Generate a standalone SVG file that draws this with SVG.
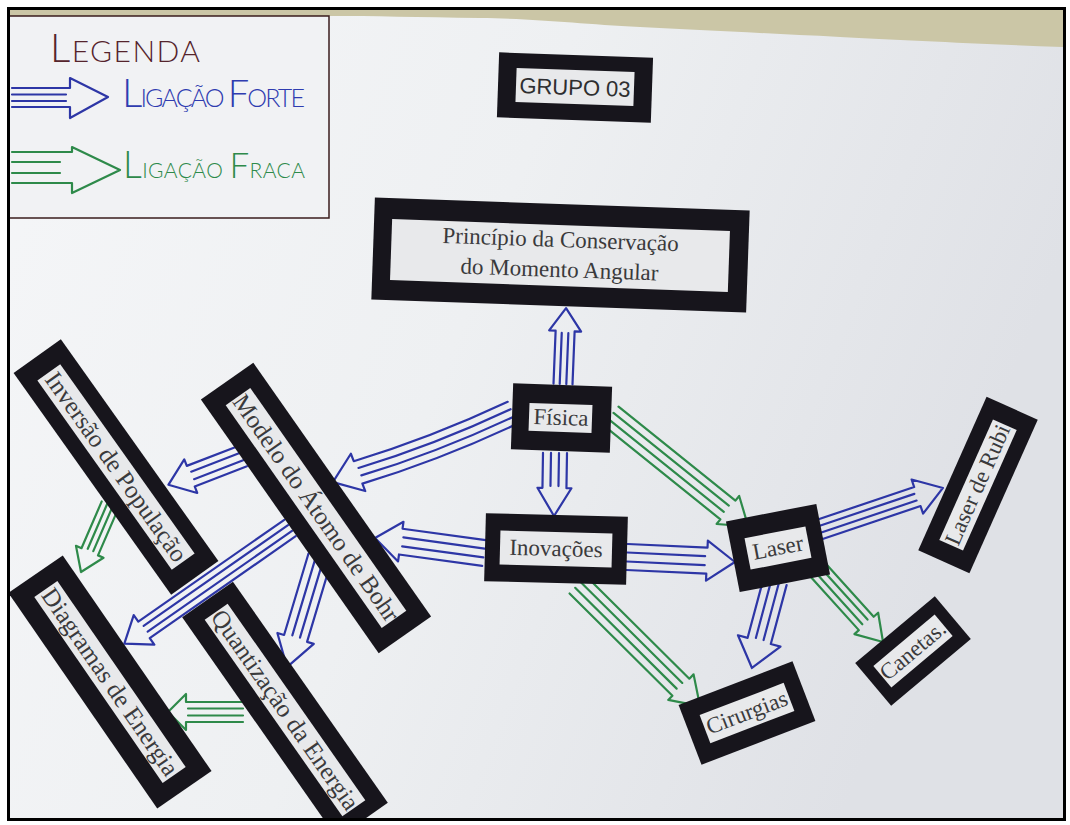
<svg xmlns="http://www.w3.org/2000/svg" width="1070" height="825" viewBox="0 0 1070 825">
  <style>
    .frame { fill: #17151c; }
    .panel { fill: #e8e9eb; }
    .lbl { font-family: "Liberation Serif", "DejaVu Serif", serif; font-size: 23px; fill: #3a3a3c; text-anchor: middle; }
    .lbl-long { font-size: 25px; }
    .sans { font-family: "Liberation Sans", Arial, sans-serif; fill: #2e2e30; text-anchor: middle; }
    .strong { fill: none; stroke: #2d36a6; stroke-width: 2.2; stroke-linejoin: round; stroke-linecap: round; }
    .weak { fill: none; stroke: #2e8a4a; stroke-width: 2.2; stroke-linejoin: round; stroke-linecap: round; }
    .hand { font-family: Lato, "Noto Sans", sans-serif; font-weight: 300; }
  </style>
  <defs>
    <linearGradient id="paper" x1="0" y1="0" x2="1" y2="0.3">
      <stop offset="0" stop-color="#f5f6f8"/>
      <stop offset="0.5" stop-color="#eef0f2"/>
      <stop offset="1" stop-color="#dfe1e6"/>
    </linearGradient>
    <clipPath id="sheet">
      <rect x="10" y="10" width="1053" height="808"/>
    </clipPath>
  </defs>

  <!-- page -->
  <rect x="0" y="0" width="1070" height="825" fill="#ffffff"/>
  <g clip-path="url(#sheet)">
    <rect x="10" y="10" width="1053" height="808" fill="url(#paper)"/>
    <!-- wall visible above the sheet -->
    <path d="M10,10 H1063 V47 C980,44 900,40 840,37 C760,33 700,30 640,27 C580,24 540,19 480,18 C420,17 370,16 330,16 H10 Z" fill="#cbc6a6"/>

    <!-- legend card -->
    <g id="legend">
      <rect x="6" y="16" width="323" height="202" fill="#f1f2f4" stroke="#3a1c1c" stroke-width="1.5"/>
      <text class="hand" x="50" y="62" fill="#55242c" textLength="150" lengthAdjust="spacing"><tspan font-size="40">L</tspan><tspan font-size="30">EGENDA</tspan></text>
      <path class="strong" d="M12,88 H70 V78 L108,97 L70,118 V107 H12 M12,94.5 H66 M12,101 H66"/>
      <text class="hand" x="122" y="107" fill="#2f3cb0" textLength="183" lengthAdjust="spacing"><tspan font-size="40">L</tspan><tspan font-size="25">IGAÇÃO </tspan><tspan font-size="38">F</tspan><tspan font-size="25">ORTE</tspan></text>
      <path class="weak" d="M12,152 H72 V147 L120,170 L72,193 V183 H12 M12,162 H60 M12,173 H60"/>
      <text class="hand" x="123" y="178" fill="#2e8a4a" textLength="182" lengthAdjust="spacing"><tspan font-size="37">L</tspan><tspan font-size="21">IGAÇÃO </tspan><tspan font-size="35">F</tspan><tspan font-size="21">RACA</tspan></text>
    </g>

    <!-- connectors: each arrow is drawn along +x from its tail, then placed -->
    <g id="connectors">
      <!-- strong links -->
      <path class="strong" transform="translate(563,384) rotate(-87.7)" d="M0,-9.5 H53 V-16 L76,0 L53,16 V9.5 H0 M0,-3.3 H51 M0,3.3 H51"/>
      <path class="strong" transform="translate(555,453) rotate(90.9)" d="M0,-12 H35 V-17 L63,0 L35,17 V12 H0 M0,-4 H33 M0,4 H33"/>
      <path class="strong" transform="translate(512,413) rotate(158.9)" d="M0,-12 Q85,-18 165,-12 V-20 L192,0 L165,20 V12 Q85,6 0,12 M0,-4 Q85,-10 163,-4 M0,4 Q85,-2 163,4"/>
      <path class="strong" transform="translate(243,456) rotate(158.9)" d="M0,-11 H56 V-18 L80,0 L56,18 V11 H0 M0,-4 H54 M0,4 H54"/>
      <path class="strong" transform="translate(484,553) rotate(187.8)" d="M0,-13 H84 V-20 L110,0 L84,20 V13 H0 M0,-4.5 H82 M0,4.5 H82"/>
      <path class="strong" transform="translate(290,528) rotate(145.1)" d="M0,-10 H178 V-18 L202,0 L178,18 V10 H0 M0,-3.5 H176 M0,3.5 H176"/>
      <path class="strong" transform="translate(320,557) rotate(106.7)" d="M0,-12 H85 V-19 L115,0 L85,19 V12 H0 M0,-4 H83 M0,4 H83"/>
      <path class="strong" transform="translate(627,557) rotate(2.65)" d="M0,-13 H80 V-20 L108,0 L80,20 V13 H0 M0,-4.5 H78 M0,4.5 H78"/>
      <path class="strong" transform="translate(815,531) rotate(-18.6)" d="M0,-10 H108 V-18 L135,0 L108,18 V10 H0 M0,-3.5 H106 M0,3.5 H106"/>
      <path class="strong" transform="translate(775,582) rotate(105)" d="M0,-12 H61 V-22 L89,0 L61,22 V12 H0 M0,-4 H59 M0,4 H59"/>
      <!-- weak links -->
      <path class="weak" transform="translate(611,416) rotate(38.8)" d="M0,-12 H150 V-18 L176,0 L150,18 V12 H0 M0,-4 H148 M0,4 H148"/>
      <path class="weak" transform="translate(578,585) rotate(44.8)" d="M0,-12 H145 V-18 L172,0 L145,18 V12 H0 M0,-4 H143 M0,4 H143"/>
      <path class="weak" transform="translate(818,570) rotate(47.9)" d="M0,-10 H72 V-16 L97,0 L72,16 V10 H0 M0,-3.5 H70 M0,3.5 H70"/>
      <path class="weak" transform="translate(110,505) rotate(113.4)" d="M0,-9 H51 V-15 L73,0 L51,15 V9 H0 M0,-3 H49 M0,3 H49"/>
      <path class="weak" transform="translate(243,712) rotate(180)" d="M0,-10 H57 V-18 L75,0 L57,18 V10 H0 M0,-3.5 H55 M0,3.5 H55"/>
    </g>

    <!-- concept cards -->
    <g id="n-grupo" transform="translate(575,87) rotate(2)">
      <rect class="frame" x="-77" y="-32" width="154" height="65"/>
      <rect class="panel" x="-59" y="-17" width="118" height="34"/>
      <text class="sans" y="8" font-size="22">GRUPO 03</text>
    </g>

    <g id="n-principio" transform="translate(560,255) rotate(2)">
      <rect class="frame" x="-187" y="-51" width="375" height="102"/>
      <rect class="panel" x="-169" y="-30" width="338" height="61"/>
      <text class="lbl" y="-8" font-size="24.5">Princípio da Conservação</text>
      <text class="lbl" y="22" font-size="24.5">do Momento Angular</text>
    </g>

    <g id="n-fisica" transform="translate(561,418) rotate(2)">
      <rect class="frame" x="-49" y="-33" width="99" height="66"/>
      <rect class="panel" x="-32" y="-14" width="63" height="28"/>
      <text class="lbl" y="7">Física</text>
    </g>

    <g id="n-inovacoes" transform="translate(556,549) rotate(1.5)">
      <rect class="frame" x="-71" y="-34" width="142" height="68"/>
      <rect class="panel" x="-56" y="-17" width="112" height="34"/>
      <text class="lbl" y="7">Inovações</text>
    </g>

    <g id="n-laser" transform="translate(778,548) rotate(-11)">
      <rect class="frame" x="-46" y="-36" width="92" height="72"/>
      <rect class="panel" x="-31" y="-16" width="62" height="32"/>
      <text class="lbl" y="7">Laser</text>
    </g>

    <g id="n-rubi" transform="translate(978,485) rotate(-66)">
      <rect class="frame" x="-84" y="-28" width="168" height="56"/>
      <rect class="panel" x="-66" y="-13" width="132" height="26"/>
      <text class="lbl" y="7" font-size="22">Laser de Rubi</text>
    </g>

    <g id="n-canetas" transform="translate(913,651) rotate(-40)">
      <rect class="frame" x="-52" y="-28" width="104" height="56"/>
      <rect class="panel" x="-40" y="-14" width="80" height="28"/>
      <text class="lbl" y="7" font-size="21">Canetas.</text>
    </g>

    <g id="n-cirurgias" transform="translate(747,713) rotate(-21)">
      <rect class="frame" x="-61" y="-32" width="122" height="64"/>
      <rect class="panel" x="-45" y="-15" width="90" height="30"/>
      <text class="lbl" y="7" font-size="22">Cirurgias</text>
    </g>

    <g id="n-inversao" transform="translate(116,467) rotate(54.6)">
      <rect class="frame" x="-136" y="-29" width="272" height="58"/>
      <rect class="panel" x="-116" y="-14" width="232" height="28"/>
      <text class="lbl lbl-long" y="8">Inversão de População</text>
    </g>

    <g id="n-bohr" transform="translate(316,508) rotate(55)">
      <rect class="frame" x="-155" y="-32" width="310" height="64"/>
      <rect class="panel" x="-136" y="-15" width="272" height="30"/>
      <text class="lbl lbl-long" y="8">Modelo do Átomo de Bohr</text>
    </g>

    <g id="n-diagramas" transform="translate(110,682) rotate(55.4)">
      <rect class="frame" x="-131" y="-33" width="262" height="66"/>
      <rect class="panel" x="-113" y="-14" width="226" height="28"/>
      <text class="lbl lbl-long" y="8">Diagramas de Energia</text>
    </g>

    <g id="n-quantizacao" transform="translate(285,710) rotate(55)">
      <rect class="frame" x="-135" y="-31" width="270" height="62"/>
      <rect class="panel" x="-120" y="-14" width="240" height="28"/>
      <text class="lbl lbl-long" y="8">Quantização da Energia</text>
    </g>
  </g>

  <!-- photo border -->
  <rect x="8.5" y="8.5" width="1056" height="811" fill="none" stroke="#000" stroke-width="3"/>
</svg>
